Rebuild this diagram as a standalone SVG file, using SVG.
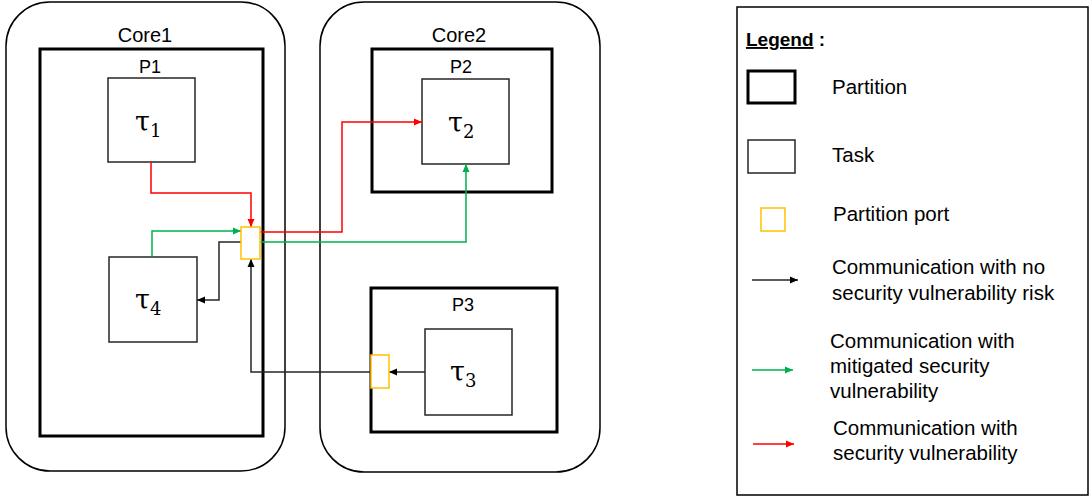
<svg xmlns="http://www.w3.org/2000/svg" width="1089" height="497" viewBox="0 0 1089 497">
<style>
.core{fill:none;stroke:#000;stroke-width:1.5}
.part{fill:#fff;stroke:#000;stroke-width:3}
.task{fill:#fff;stroke:#262626;stroke-width:1.5}
.port{fill:#fff;stroke:#FFC000;stroke-width:1.5}
.lbl{font-family:"Liberation Sans",Arial,sans-serif;fill:#000}
.tau{font-family:"DejaVu Serif","Liberation Serif",serif;fill:#000}
.c{fill:none;stroke-width:1.5}
.k{stroke:#262626}
.g{stroke:#00B050}
.r{stroke:#FF0000}
</style>
<defs>
<marker id="ak" markerUnits="userSpaceOnUse" markerWidth="9" markerHeight="8" refX="8" refY="4" orient="auto"><path d="M0,0.5 L8,4 L0,7.5 z" fill="#000"/></marker>
<marker id="ag" markerUnits="userSpaceOnUse" markerWidth="9" markerHeight="8" refX="8" refY="4" orient="auto"><path d="M0,0.5 L8,4 L0,7.5 z" fill="#00B050"/></marker>
<marker id="ar" markerUnits="userSpaceOnUse" markerWidth="9" markerHeight="8" refX="8" refY="4" orient="auto"><path d="M0,0.5 L8,4 L0,7.5 z" fill="#FF0000"/></marker>
</defs>
<rect width="1089" height="497" fill="#fff"/>

<g id="core1">
<rect class="core" x="6" y="2" width="279" height="469" rx="44" ry="44"/>
<text class="lbl" x="145" y="42" font-size="20" text-anchor="middle">Core1</text>
</g>
<g id="core2">
<rect class="core" x="320" y="2" width="280" height="470" rx="44" ry="44"/>
<text class="lbl" x="459" y="42" font-size="20" text-anchor="middle">Core2</text>
</g>

<g id="P1">
<rect class="part" x="40" y="49" width="223" height="387"/>
<text class="lbl" x="150" y="73" font-size="18" text-anchor="middle">P1</text>
</g>
<g id="P2">
<rect class="part" x="372" y="49" width="180" height="143"/>
<text class="lbl" x="461" y="73" font-size="18" text-anchor="middle">P2</text>
</g>
<g id="P3">
<rect class="part" x="371" y="288" width="186" height="144"/>
<text class="lbl" x="463" y="311" font-size="18" text-anchor="middle">P3</text>
</g>

<g id="tau1">
<rect class="task" x="108" y="78" width="87" height="84"/>
<text class="tau" x="135" y="131" font-size="27">τ<tspan font-size="18" dy="6">1</tspan></text>
</g>
<g id="tau2">
<rect class="task" x="422" y="79" width="87" height="85"/>
<text class="tau" x="448" y="132" font-size="27">τ<tspan font-size="18" dy="6">2</tspan></text>
</g>
<g id="tau3">
<rect class="task" x="425" y="329" width="87" height="86"/>
<text class="tau" x="450" y="381" font-size="27">τ<tspan font-size="18" dy="6">3</tspan></text>
</g>
<g id="tau4">
<rect class="task" x="109" y="257" width="88" height="85"/>
<text class="tau" x="135" y="309" font-size="27">τ<tspan font-size="18" dy="6">4</tspan></text>
</g>

<g id="connectors">
<path class="c r" d="M151,162 V193 H251 V227" marker-end="url(#ar)"/>
<path class="c g" d="M152,257 V231 H241" marker-end="url(#ag)"/>
<path class="c k" d="M241,242 H219 V300 H197" marker-end="url(#ak)"/>
<path class="c k" d="M371,372 H251 V259" marker-end="url(#ak)"/>
<path class="c k" d="M425,372 H389" marker-end="url(#ak)"/>
<path class="c r" d="M260,232 H342 V122 H422" marker-end="url(#ar)"/>
<path class="c g" d="M260,242 H466 V164" marker-end="url(#ag)"/>
</g>

<g id="port1">
<rect class="port" x="241" y="227" width="19" height="32"/>
</g>
<g id="port2">
<rect class="port" x="371" y="355" width="18" height="33"/>
</g>

<g id="legend">
<rect x="737" y="7" width="351" height="488" fill="none" stroke="#000" stroke-width="1.5"/>
<text class="lbl" x="746" y="46" font-size="19" font-weight="bold"><tspan text-decoration="underline">Legend</tspan> :</text>
<rect class="part" x="748" y="71" width="47" height="32"/>
<text class="lbl" x="832" y="94" font-size="20.5">Partition</text>
<rect class="task" x="748" y="140" width="47" height="33"/>
<text class="lbl" x="832" y="162" font-size="20.5">Task</text>
<rect class="port" x="761" y="208" width="24" height="23"/>
<text class="lbl" x="833" y="221" font-size="20.5">Partition port</text>
<path class="c k" d="M752,280 H798" marker-end="url(#ak)"/>
<text class="lbl" x="832" y="274" font-size="20.5">Communication with no</text>
<text class="lbl" x="832" y="300" font-size="20.5">security vulnerability risk</text>
<path class="c g" d="M752,370 H793" marker-end="url(#ag)"/>
<text class="lbl" x="830" y="348" font-size="20.5">Communication with</text>
<text class="lbl" x="830" y="373" font-size="20.5">mitigated security</text>
<text class="lbl" x="830" y="398" font-size="20.5">vulnerability</text>
<path class="c r" d="M753,444 H794" marker-end="url(#ar)"/>
<text class="lbl" x="833" y="435" font-size="20.5">Communication with</text>
<text class="lbl" x="833" y="460" font-size="20.5">security vulnerability</text>
</g>
</svg>
